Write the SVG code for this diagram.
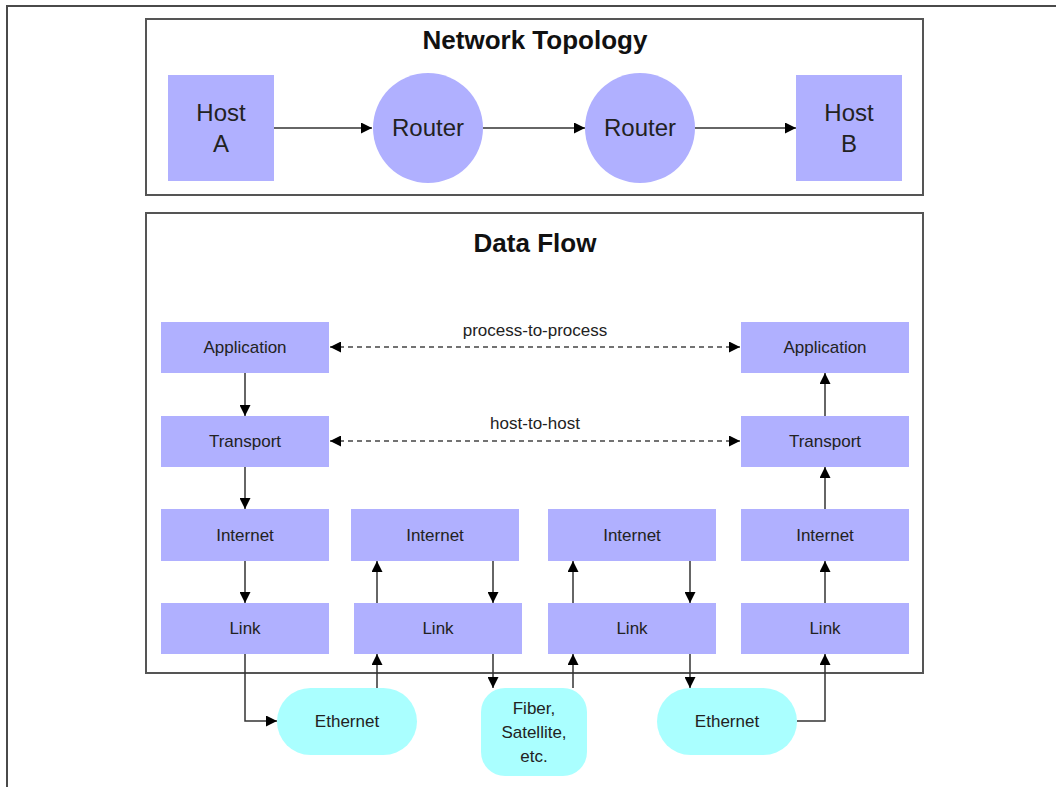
<svg xmlns="http://www.w3.org/2000/svg" width="1056" height="787" viewBox="0 0 1056 787">
<style>
.frame{fill:none;stroke:#4a4a4a;stroke-width:2}
.panel{fill:#fff;stroke:#555;stroke-width:2}
.node{fill:#b0b0ff}
.medium{fill:#aaffff}
.t{font-family:"Liberation Sans",Arial,sans-serif;fill:#222;text-anchor:middle}
.title{font-size:26px;font-weight:bold;fill:#111}
.big{font-size:24px}
.lay{font-size:17px}
.lbl{font-size:17px}
.c{fill:none;stroke:#333;stroke-width:1.5}
.d{fill:none;stroke:#444;stroke-width:1.3;stroke-dasharray:5,4}
</style>
<defs>
<marker id="ah" viewBox="0 0 10 10" refX="10" refY="5" markerWidth="11" markerHeight="11" markerUnits="userSpaceOnUse" orient="auto-start-reverse">
<path d="M0,0 L10,5 L0,10 z" fill="#000"/>
</marker>
</defs>
<rect width="1056" height="787" fill="#fff"/>
<path class="frame" d="M7,787 V6 H1056"/>

<g id="panel-topology">
<rect class="panel" x="146" y="19" width="777" height="176"/>
<text class="t title" x="535" y="49">Network Topology</text>
</g>
<g id="panel-dataflow">
<rect class="panel" x="146" y="213" width="777" height="460"/>
<text class="t title" x="535" y="252">Data Flow</text>
</g>

<g id="host-a"><rect class="node" x="168" y="75" width="106" height="106"/><text class="t big" x="221" y="121">Host</text><text class="t big" x="221" y="152">A</text></g>
<g id="router-1"><circle class="node" cx="428" cy="128" r="55"/><text class="t big" x="428" y="136">Router</text></g>
<g id="router-2"><circle class="node" cx="640" cy="128" r="55"/><text class="t big" x="640" y="136">Router</text></g>
<g id="host-b"><rect class="node" x="796" y="75" width="106" height="106"/><text class="t big" x="849" y="121">Host</text><text class="t big" x="849" y="152">B</text></g>

<g id="app-1"><rect class="node" x="161" y="322" width="168" height="51"/><text class="t lay" x="245" y="353">Application</text></g>
<g id="transport-1"><rect class="node" x="161" y="416" width="168" height="51"/><text class="t lay" x="245" y="447">Transport</text></g>
<g id="internet-1"><rect class="node" x="161" y="509" width="168" height="52"/><text class="t lay" x="245" y="541">Internet</text></g>
<g id="link-1"><rect class="node" x="161" y="603" width="168" height="51"/><text class="t lay" x="245" y="634">Link</text></g>

<g id="internet-2"><rect class="node" x="351" y="509" width="168" height="52"/><text class="t lay" x="435" y="541">Internet</text></g>
<g id="link-2"><rect class="node" x="354" y="603" width="168" height="51"/><text class="t lay" x="438" y="634">Link</text></g>

<g id="internet-3"><rect class="node" x="548" y="509" width="168" height="52"/><text class="t lay" x="632" y="541">Internet</text></g>
<g id="link-3"><rect class="node" x="548" y="603" width="168" height="51"/><text class="t lay" x="632" y="634">Link</text></g>

<g id="app-4"><rect class="node" x="741" y="322" width="168" height="51"/><text class="t lay" x="825" y="353">Application</text></g>
<g id="transport-4"><rect class="node" x="741" y="416" width="168" height="51"/><text class="t lay" x="825" y="447">Transport</text></g>
<g id="internet-4"><rect class="node" x="741" y="509" width="168" height="52"/><text class="t lay" x="825" y="541">Internet</text></g>
<g id="link-4"><rect class="node" x="741" y="603" width="168" height="51"/><text class="t lay" x="825" y="634">Link</text></g>

<g id="ethernet-1"><rect class="medium" x="277" y="688" width="140" height="67" rx="33.5"/><text class="t lay" x="347" y="727">Ethernet</text></g>
<g id="fiber"><rect class="medium" x="481" y="688" width="106" height="88" rx="24"/><text class="t lay" x="534" y="714">Fiber,</text><text class="t lay" x="534" y="738">Satellite,</text><text class="t lay" x="534" y="762">etc.</text></g>
<g id="ethernet-2"><rect class="medium" x="657" y="688" width="140" height="67" rx="33.5"/><text class="t lay" x="727" y="727">Ethernet</text></g>

<g id="connectors">
<path class="c" d="M274,128 H372" marker-end="url(#ah)"/>
<path class="c" d="M483,128 H585" marker-end="url(#ah)"/>
<path class="c" d="M695,128 H796" marker-end="url(#ah)"/>

<path class="d" d="M330,347 H740" marker-start="url(#ah)" marker-end="url(#ah)"/>
<text class="t lbl" x="535" y="336">process-to-process</text>
<path class="d" d="M330,441 H740" marker-start="url(#ah)" marker-end="url(#ah)"/>
<text class="t lbl" x="535" y="429">host-to-host</text>

<path class="c" d="M245,373 V416" marker-end="url(#ah)"/>
<path class="c" d="M245,467 V509" marker-end="url(#ah)"/>
<path class="c" d="M245,561 V603" marker-end="url(#ah)"/>
<path class="c" d="M245,654 V721 H277" marker-end="url(#ah)"/>

<path class="c" d="M377,688 V654" marker-end="url(#ah)"/>
<path class="c" d="M377,603 V561" marker-end="url(#ah)"/>
<path class="c" d="M493,561 V603" marker-end="url(#ah)"/>
<path class="c" d="M493,654 V688" marker-end="url(#ah)"/>

<path class="c" d="M573,688 V654" marker-end="url(#ah)"/>
<path class="c" d="M573,603 V561" marker-end="url(#ah)"/>
<path class="c" d="M690,561 V603" marker-end="url(#ah)"/>
<path class="c" d="M690,654 V688" marker-end="url(#ah)"/>

<path class="c" d="M797,721 H825 V654" marker-end="url(#ah)"/>
<path class="c" d="M825,603 V561" marker-end="url(#ah)"/>
<path class="c" d="M825,509 V467" marker-end="url(#ah)"/>
<path class="c" d="M825,416 V373" marker-end="url(#ah)"/>
</g>
</svg>
